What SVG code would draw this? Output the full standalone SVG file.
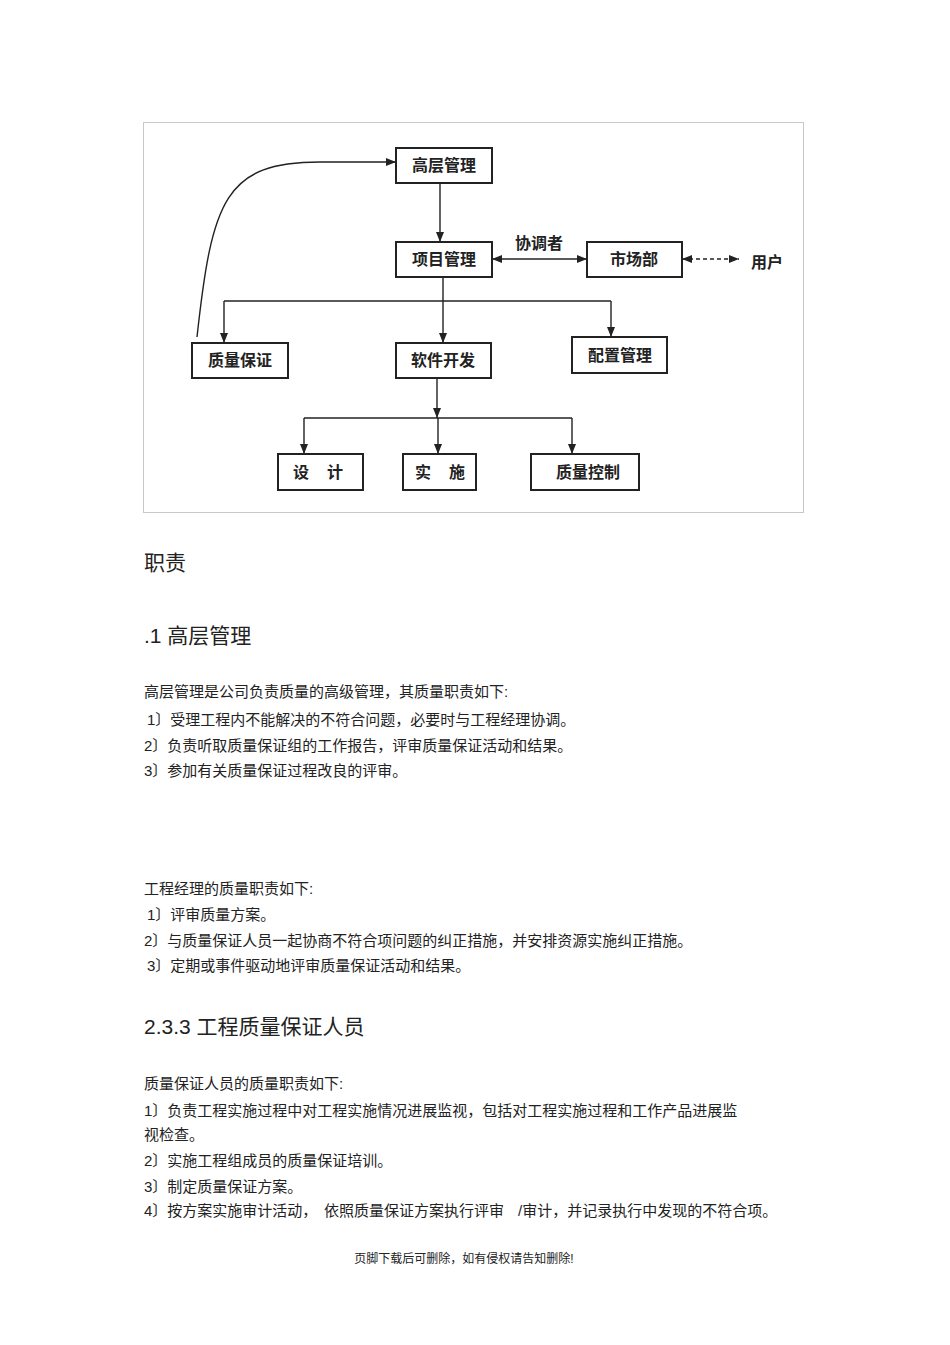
<svg xmlns="http://www.w3.org/2000/svg" width="950" height="1345" viewBox="0 0 950 1345">
<style>
.box{fill:#fff;stroke:#222;stroke-width:2}
.bt{font-family:"Noto Sans CJK SC","Noto Sans CJK JP",sans-serif;font-size:16px;font-weight:bold;fill:#222;text-anchor:middle}
.ln{fill:none;stroke:#222;stroke-width:1.4}
.dash{stroke-dasharray:4 3}
.h{font-family:"Liberation Sans","Noto Sans CJK SC",sans-serif;font-size:21px;fill:#222}
.p{font-family:"Liberation Sans","Noto Sans CJK SC",sans-serif;font-size:15px;fill:#222}
.f{font-family:"Liberation Sans","Noto Sans CJK SC",sans-serif;font-size:12px;fill:#222;text-anchor:middle}
</style>
<defs>
<marker id="ah" markerUnits="userSpaceOnUse" markerWidth="12" markerHeight="10" refX="10" refY="4" orient="auto-start-reverse">
<path d="M0,0 L10,4 L0,8 Z" fill="#222"/>
</marker>
</defs>
<rect x="143.5" y="122.5" width="660" height="390" fill="#fff" stroke="#c8c8c8" stroke-width="1"/>
<g id="connectors">
<line class="ln" x1="440" y1="183" x2="440" y2="242" marker-end="url(#ah)"/>
<line class="ln" x1="443" y1="277" x2="443" y2="301"/>
<line class="ln" x1="224" y1="301" x2="611" y2="301"/>
<line class="ln" x1="224" y1="301" x2="224" y2="343" marker-end="url(#ah)"/>
<line class="ln" x1="443" y1="301" x2="443" y2="343" marker-end="url(#ah)"/>
<line class="ln" x1="611" y1="301" x2="611" y2="337" marker-end="url(#ah)"/>
<line class="ln" x1="437" y1="378" x2="437" y2="418" marker-end="url(#ah)"/>
<line class="ln" x1="304" y1="418" x2="572" y2="418"/>
<line class="ln" x1="304" y1="418" x2="304" y2="454" marker-end="url(#ah)"/>
<line class="ln" x1="438" y1="418" x2="438" y2="454" marker-end="url(#ah)"/>
<line class="ln" x1="572" y1="418" x2="572" y2="454" marker-end="url(#ah)"/>
<line class="ln" x1="492" y1="259" x2="587" y2="259" marker-start="url(#ah)" marker-end="url(#ah)"/>
<line class="ln dash" x1="682" y1="259" x2="739" y2="259" marker-start="url(#ah)" marker-end="url(#ah)"/>
<path class="ln" d="M197,337 C212,200 225,162 320,162 L396,162" marker-end="url(#ah)"/>
<text class="bt" x="539" y="249">协调者</text>
<text class="bt" x="767" y="268">用户</text>
</g>
<g id="n-gaoceng"><rect class="box" x="396" y="148" width="96" height="35"/><text class="bt" x="444" y="171">高层管理</text></g>
<g id="n-xiangmu"><rect class="box" x="396" y="242" width="96" height="35"/><text class="bt" x="444" y="265">项目管理</text></g>
<g id="n-shichang"><rect class="box" x="587" y="242" width="95" height="35"/><text class="bt" x="634" y="265">市场部</text></g>
<g id="n-zhiliangbaozheng"><rect class="box" x="192" y="343" width="96" height="35"/><text class="bt" x="240" y="366">质量保证</text></g>
<g id="n-ruanjian"><rect class="box" x="396" y="343" width="95" height="35"/><text class="bt" x="443" y="366">软件开发</text></g>
<g id="n-peizhi"><rect class="box" x="572" y="337" width="95" height="36"/><text class="bt" x="620" y="361">配置管理</text></g>
<g id="n-sheji"><rect class="box" x="278" y="454" width="85" height="36"/><text class="bt" x="327" y="478" letter-spacing="18">设计</text></g>
<g id="n-shishi"><rect class="box" x="403" y="454" width="73" height="36"/><text class="bt" x="449" y="478" letter-spacing="18">实施</text></g>
<g id="n-zhiliangkongzhi"><rect class="box" x="531" y="454" width="108" height="36"/><text class="bt" x="588" y="478">质量控制</text></g>
<g id="body">
<text class="h" x="144" y="570">职责</text>
<text class="h" x="144" y="643">.1 高层管理</text>
<text class="p" x="144" y="697">高层管理是公司负责质量的高级管理，其质量职责如下:</text>
<text class="p" x="147" y="725">1〕受理工程内不能解决的不符合问题，必要时与工程经理协调。</text>
<text class="p" x="144" y="751">2〕负责听取质量保证组的工作报告，评审质量保证活动和结果。</text>
<text class="p" x="144" y="776">3〕参加有关质量保证过程改良的评审。</text>
<text class="p" x="144" y="894">工程经理的质量职责如下:</text>
<text class="p" x="147" y="920">1〕评审质量方案。</text>
<text class="p" x="144" y="946">2〕与质量保证人员一起协商不符合项问题的纠正措施，并安排资源实施纠正措施。</text>
<text class="p" x="147" y="971">3〕定期或事件驱动地评审质量保证活动和结果。</text>
<text class="h" x="144" y="1034">2.3.3  工程质量保证人员</text>
<text class="p" x="144" y="1089">质量保证人员的质量职责如下:</text>
<text class="p" x="144" y="1116">1〕负责工程实施过程中对工程实施情况进展监视，包括对工程实施过程和工作产品进展监</text>
<text class="p" x="144" y="1140">视检查。</text>
<text class="p" x="144" y="1166">2〕实施工程组成员的质量保证培训。</text>
<text class="p" x="144" y="1192">3〕制定质量保证方案。</text>
<text class="p" x="144" y="1216">4〕按方案实施审计活动，</text>
<text class="p" x="324" y="1216">依照质量保证方案执行评审</text>
<text class="p" x="518" y="1216">/审计，并记录执行中发现的不符合项。</text>
<text class="f" x="464" y="1263">页脚下载后可删除，如有侵权请告知删除!</text>
</g>
</svg>
